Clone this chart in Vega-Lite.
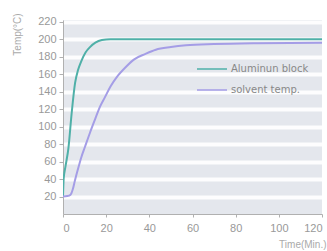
{
  "$schema": "https://vega.github.io/schema/vega-lite/v6.json",
  "width": 259,
  "height": 194,
  "autosize": "none",
  "padding": {"left": 63, "top": 20, "right": 5, "bottom": 37},
  "background": "white",
  "config": {
    "view": {"fill": "#e4e7ed", "stroke": null},
    "font": "Liberation Sans",
    "axis": {
      "labelColor": "#999999",
      "labelFontSize": 11,
      "titleColor": "#aaaaaa",
      "titleFontSize": 10,
      "titleFontWeight": "normal",
      "domainColor": "#b0b0b0",
      "tickColor": "#b0b0b0"
    }
  },
  "data": {
    "values": [
      {"t": 0, "v": 20, "s": "Aluminun block"},
      {"t": 0.3, "v": 40, "s": "Aluminun block"},
      {"t": 1.2, "v": 55, "s": "Aluminun block"},
      {"t": 2.5, "v": 75, "s": "Aluminun block"},
      {"t": 4, "v": 115, "s": "Aluminun block"},
      {"t": 5.6, "v": 150, "s": "Aluminun block"},
      {"t": 7, "v": 165, "s": "Aluminun block"},
      {"t": 8.5, "v": 175, "s": "Aluminun block"},
      {"t": 10.5, "v": 185, "s": "Aluminun block"},
      {"t": 12.5, "v": 191, "s": "Aluminun block"},
      {"t": 15, "v": 196, "s": "Aluminun block"},
      {"t": 18, "v": 199, "s": "Aluminun block"},
      {"t": 22, "v": 200, "s": "Aluminun block"},
      {"t": 60, "v": 200, "s": "Aluminun block"},
      {"t": 120, "v": 200, "s": "Aluminun block"},
      {"t": 0, "v": 20, "s": "solvent temp."},
      {"t": 2, "v": 20.5, "s": "solvent temp."},
      {"t": 3.5, "v": 22, "s": "solvent temp."},
      {"t": 4.5, "v": 28, "s": "solvent temp."},
      {"t": 5.5, "v": 38, "s": "solvent temp."},
      {"t": 7, "v": 52, "s": "solvent temp."},
      {"t": 8.5, "v": 65, "s": "solvent temp."},
      {"t": 10.2, "v": 77, "s": "solvent temp."},
      {"t": 12.5, "v": 93, "s": "solvent temp."},
      {"t": 14.8, "v": 108, "s": "solvent temp."},
      {"t": 17, "v": 122, "s": "solvent temp."},
      {"t": 19.5, "v": 134, "s": "solvent temp."},
      {"t": 22, "v": 146, "s": "solvent temp."},
      {"t": 25, "v": 157, "s": "solvent temp."},
      {"t": 29, "v": 168, "s": "solvent temp."},
      {"t": 33, "v": 177, "s": "solvent temp."},
      {"t": 38, "v": 183, "s": "solvent temp."},
      {"t": 43, "v": 188, "s": "solvent temp."},
      {"t": 50, "v": 191, "s": "solvent temp."},
      {"t": 57, "v": 193, "s": "solvent temp."},
      {"t": 70, "v": 194.5, "s": "solvent temp."},
      {"t": 90, "v": 195.5, "s": "solvent temp."},
      {"t": 120, "v": 196, "s": "solvent temp."}
    ]
  },
  "mark": {"type": "line", "strokeWidth": 2, "interpolate": "monotone", "clip": true},
  "encoding": {
    "x": {
      "field": "t",
      "type": "quantitative",
      "scale": {"domain": [0, 120], "nice": false},
      "axis": {
        "values": [0, 20, 40, 60, 80, 100, 120],
        "title": "Time(Min.)",
        "titleX": 263,
        "titleY": 30,
        "titleAlign": "right",
        "titleBaseline": "middle",
        "grid": false,
        "tickSize": 3,
        "labelPadding": 5
      }
    },
    "y": {
      "field": "v",
      "type": "quantitative",
      "scale": {"domain": [0, 222], "nice": false},
      "axis": {
        "values": [20, 40, 60, 80, 100, 120, 140, 160, 180, 200, 220],
        "title": "Temp(°C)",
        "titleX": -46,
        "titleY": 14,
        "titleAlign": "center",
        "titleBaseline": "middle",
        "grid": true,
        "gridColor": "#ffffff",
        "gridWidth": 4,
        "gridOpacity": 0.9,
        "tickSize": 4,
        "labelPadding": 3
      }
    },
    "color": {
      "field": "s",
      "type": "nominal",
      "scale": {"domain": ["Aluminun block", "solvent temp."], "range": ["#4fb0a8", "#a49de6"]},
      "legend": {
        "title": null,
        "orient": "none",
        "legendX": 133,
        "legendY": 33,
        "symbolType": "stroke",
        "symbolSize": 900,
        "symbolStrokeWidth": 1.5,
        "labelFont": "DejaVu Sans",
        "labelFontSize": 10,
        "labelColor": "#888888",
        "labelOffset": 3,
        "rowPadding": -13
      }
    }
  }
}
